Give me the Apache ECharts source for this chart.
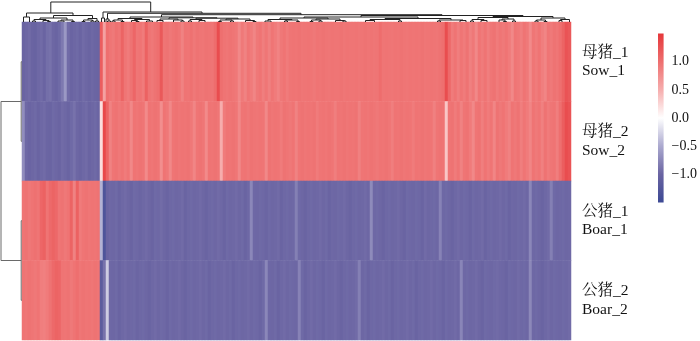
<!DOCTYPE html>
<html><head><meta charset="utf-8">
<script src="https://cdn.jsdelivr.net/npm/echarts@6/dist/echarts.min.js"></script>
<style>html,body{margin:0;padding:0;background:#fff}#c{width:700px;height:341px}</style>
</head><body><div id="c"></div>
<script>
// ---- data ----
const rowNamesCn = ['母猪_1', '母猪_2', '公猪_1', '公猪_2'];
const rowNamesEn = ['Sow_1', 'Sow_2', 'Boar_1', 'Boar_2'];

const sow1 = [
-1.0,-0.98,-0.95,-1.0,-1.02,-0.97,-0.95,-1.0,-0.92,-0.9,
-0.98,-1.0,-0.96,-0.85,-0.62,-0.95,-1.0,-0.98,-0.96,-1.0,
-0.95,-0.98,-1.0,-0.97,-0.99,-1.0,1.15,0.6,1.0,0.95,
0.92,0.98,0.95,1.1,0.95,0.9,0.97,1.08,0.94,0.96,
0.9,1.12,0.96,0.93,0.97,1.0,1.2,0.95,0.97,0.93,
0.96,0.98,0.95,0.85,0.96,0.95,0.98,0.93,0.97,0.95,
0.94,0.97,0.96,0.95,1.02,1.3,1.0,0.96,0.94,0.97,
0.95,0.93,0.8,0.92,0.85,0.95,0.9,0.82,0.93,0.96,
0.88,0.94,0.86,0.95,0.9,0.84,0.93,0.96,0.9,0.95,
0.96,0.95,0.97,0.94,0.95,0.96,0.95,0.93,0.96,0.95,
0.97,0.95,0.94,0.96,0.95,0.95,0.97,0.94,0.96,0.95,
0.95,0.96,0.94,0.95,0.97,0.95,0.96,0.94,0.95,1.02,
0.95,0.96,0.95,0.94,0.96,0.95,0.97,0.95,0.94,0.96,
0.95,0.96,0.95,0.97,0.94,0.95,0.96,0.95,0.94,0.97,
1.0,1.3,1.05,0.9,0.96,0.88,0.95,0.9,0.97,0.86,
0.93,0.8,0.95,0.9,0.96,0.88,0.94,0.97,0.9,0.95,
0.92,0.96,0.9,0.8,0.95,0.93,0.88,0.96,0.92,0.78,
0.94,0.9,0.96,0.88,0.82,0.95,0.92,0.97,0.94,1.0,
1.1,1.25,1.2];

const sow2 = [
-0.7,-0.97,-1.0,-0.98,-0.96,-1.0,-0.97,-0.95,-0.99,-1.0,
-0.96,-0.98,-1.0,-0.95,-0.97,-1.0,-0.96,-0.9,-0.98,-1.0,
-0.97,-0.95,-1.0,-0.98,-0.96,-0.99,0.2,1.35,1.1,0.85,
0.95,0.97,0.93,0.96,0.9,0.95,0.8,0.96,0.94,0.97,
0.95,0.78,0.96,0.94,0.97,0.95,0.75,0.96,0.93,0.8,
0.95,0.97,0.94,0.96,0.95,0.97,0.93,0.82,0.95,0.97,
0.94,0.78,0.96,0.95,0.97,0.94,0.5,0.9,0.96,0.95,
0.97,0.94,0.8,0.95,0.96,0.93,0.97,0.95,0.94,0.96,
0.95,0.8,0.97,0.94,0.96,0.95,0.9,0.97,0.95,0.93,
0.96,0.85,0.95,0.97,0.94,0.96,0.95,0.97,0.9,0.95,
0.96,0.94,0.97,0.95,0.88,0.96,0.95,0.97,0.94,0.96,
0.95,0.97,0.86,0.95,0.96,0.94,0.97,0.95,0.93,0.96,
0.95,0.97,0.94,0.88,0.96,0.95,0.97,0.94,0.96,0.95,
0.9,0.96,0.95,0.97,0.94,0.96,0.95,0.86,0.95,0.97,
0.96,0.35,0.95,0.97,0.9,0.96,0.85,0.95,0.97,0.9,
0.8,0.95,0.97,0.88,0.96,0.9,0.95,0.82,0.97,0.93,
0.96,0.9,0.85,0.96,0.93,0.97,0.88,0.95,0.9,0.82,
0.96,0.92,0.95,0.86,0.97,0.9,0.94,0.96,0.88,1.0,
1.15,1.3,1.25];

const boar1 = [
0.95,0.97,0.93,0.96,0.98,0.95,1.08,1.12,0.96,1.05,
1.1,1.06,0.95,0.97,0.93,0.96,1.1,0.85,1.12,0.9,
0.95,0.97,0.94,0.96,0.95,0.97,-0.45,-1.3,-1.0,-0.97,
-0.98,-0.96,-1.0,-0.97,-0.95,-0.98,-1.0,-0.96,-0.97,-0.99,
-0.97,-0.95,-0.98,-1.0,-0.96,-0.97,-0.94,-0.98,-1.0,-0.97,
-0.96,-0.98,-0.97,-0.95,-1.0,-0.97,-0.96,-0.98,-0.97,-0.95,
-0.98,-1.0,-0.97,-0.96,-0.98,-0.95,-0.97,-1.0,-0.96,-0.98,
-0.97,-0.95,-0.98,-0.96,-1.0,-0.97,-0.75,-0.97,-0.98,-0.96,
-0.97,-0.99,-0.96,-0.98,-0.97,-0.95,-1.0,-0.97,-0.96,-0.98,
-0.97,-0.8,-0.96,-0.98,-1.0,-0.97,-0.96,-0.98,-0.97,-0.95,
-0.98,-0.96,-1.0,-0.97,-0.98,-0.96,-0.97,-0.95,-0.98,-1.0,
-0.97,-0.96,-0.98,-0.97,-0.95,-0.98,-0.72,-0.97,-0.96,-0.98,
-1.0,-0.97,-0.96,-0.98,-0.97,-0.95,-0.98,-1.0,-0.96,-0.97,
-0.98,-0.96,-0.97,-1.0,-0.95,-0.98,-0.97,-0.96,-0.98,-0.78,
-0.97,-0.96,-0.98,-1.0,-0.97,-0.95,-0.98,-0.96,-0.97,-1.0,
-0.96,-0.98,-0.97,-0.95,-1.0,-0.97,-0.96,-0.98,-0.97,-0.95,
-0.98,-0.96,-1.0,-0.97,-0.98,-0.96,-0.97,-0.95,-0.98,-0.75,
-0.97,-0.96,-0.98,-1.0,-0.97,-0.95,-0.8,-0.96,-0.98,-0.97,
-0.96,-0.98,-0.97];

const boar2 = [
0.96,0.94,0.97,0.95,0.93,0.96,0.88,0.86,0.9,0.97,
1.05,1.1,1.08,0.96,0.95,0.97,0.92,0.96,1.0,0.94,
0.97,0.95,0.96,0.94,0.97,0.95,-1.15,-0.9,-0.3,-0.97,
-0.98,-0.96,-1.0,-0.97,-0.95,-0.98,-0.97,-0.96,-0.99,-0.97,
-0.96,-0.98,-1.0,-0.97,-0.95,-0.98,-0.96,-0.97,-1.0,-0.96,
-0.98,-0.97,-0.95,-0.98,-1.0,-0.97,-0.96,-0.98,-0.97,-0.95,
-0.98,-0.96,-1.0,-0.97,-0.96,-0.98,-0.97,-0.95,-0.98,-0.96,
-1.0,-0.97,-0.96,-0.98,-0.97,-0.95,-0.98,-0.96,-0.97,-1.0,
-0.96,-0.75,-0.97,-0.98,-0.96,-1.0,-0.97,-0.95,-0.98,-0.96,
-0.97,-0.98,-0.78,-0.96,-1.0,-0.97,-0.95,-0.98,-0.96,-0.97,
-1.0,-0.96,-0.98,-0.97,-0.95,-0.98,-1.0,-0.97,-0.96,-0.98,
-0.97,-0.95,-0.8,-0.98,-0.96,-1.0,-0.97,-0.96,-0.98,-0.97,
-0.95,-0.98,-0.96,-1.0,-0.97,-0.96,-0.98,-0.97,-0.95,-0.98,
-0.96,-1.0,-0.97,-0.96,-0.98,-0.97,-0.95,-0.98,-0.96,-0.97,
-1.0,-0.96,-0.98,-0.97,-0.95,-0.98,-0.76,-0.97,-0.96,-0.98,
-0.97,-0.95,-0.98,-1.0,-0.96,-0.97,-0.98,-0.96,-0.95,-0.97,
-0.98,-1.0,-0.96,-0.97,-0.98,-0.95,-0.97,-0.96,-0.98,-0.74,
-0.97,-0.96,-0.98,-1.0,-0.97,-0.95,-0.98,-0.96,-0.97,-0.98,
-0.96,-0.97,-0.95];

const rowsValues = [sow1, sow2, boar1, boar2];

// colour scale range and tick labels
const scaleMin = -1.5, scaleMax = 1.5, scaleStep = 0.5;

// dendrogram links: [xLeftChild, hLeftChild, xRightChild, hRightChild, hMerge]
// top (columns, x in column units, height in tree units)
const topLinks = [
[9.6,9,42.9,10,20],
[1.5,5,17,6.5,9],[0.5,0,2.5,0,5],
[10.5,4,23.5,3.5,6.5],[6,2.5,15,2,4],[4,1,8,1.5,2.5],[3.5,0,4.5,0,1],[7,0,9,0.5,1.5],[8.5,0,9.5,0,0.5],
[13,1,17,0.5,2],[12,0,14,0,1],[16.5,0,17.5,0,0.5],
[22,2,25,1,3.5],[20.5,0.5,23.5,1,2],[20,0,21,0,0.5],[23,0,24,0,1],[24.5,0,25.5,0,1],
[27,4,60,8.7,10],[26.5,0,27.5,0,4],
[28.5,3,93,7.3,8.7],[28,0,29,1,3],[28.5,0,29.5,0,1],
[46.5,5,140,6.5,7.3],
[36,3.5,57,4.2,5],[32,2,40,2.5,3.5],[30.5,1,33.5,0.5,2],[30,0,31,0,1],[33,0,34,0,0.5],
[37.5,1.5,42.5,1,2.5],[36.5,0,38.5,0.5,1.5],[38,0,39,0,0.5],[41.5,0,43.5,0,1],
[49,3,65,3.8,4.2],[46,1.5,52,2,3],[45,0,47,0,1.5],[50.5,0,53.5,1,2],[53,0,54,0,1],
[58,2.5,72,3,3.8],[56,1,60,1.5,2.5],[55.5,0,56.5,0,1],[59,0,61,0,1.5],
[68,2,76,1.5,3],[66,0.5,70,1,2],[65.5,0,66.5,0,0.5],[69.5,0,70.5,0,1],[74.5,0,77.5,0.5,1.5],[77,0,78,0,0.5],
[113,5,167,5.5,6.5],[94,4,132,3.5,5],
[86,2.5,102,3,4],[82,1,90,2,2.5],[81,0,83,0,1],[88,1,92,0.5,2],[87.5,0,88.5,0,1],[91.5,0,92.5,0,0.5],
[98,2,106,1.5,3],[96.5,0.5,99.5,1,2],[96,0,97,0,0.5],[99,0,100,0,1],[104.5,0,107.5,1,1.5],[107,0,108,0,1],
[121,2.5,143,2,3.5],[116,1.5,126,1,2.5],[114.5,0,117.5,0,1.5],[125.5,0,126.5,0,1],
[139,1,147,1.5,2],[138.5,0,139.5,0,1],[146,0,148,0,1.5],
[157,4.5,177,4,5.5],[152,2.5,162,3,4.5],[150,1,154,1.5,2.5],[149.5,0,150.5,0,1],[153,0,155,0,1.5],
[160,2,164,1,3],[159,0,161,0.5,2],[160.5,0,161.5,0,0.5],[163.5,0,164.5,0,1],
[173,2,181,2.5,4],[171.5,1,174.5,0.5,2],[171,0,172,0,1],[174,0,175,0,0.5],[179.5,1.5,182.5,0,2.5],[179,0,180,0,1.5]
];
// left (rows): [yRowA, hA, yRowB, hB, hMerge]
const leftLinks = [
[0.5,0,1.5,0,0.8],
[2.5,0,3.5,0,0.8],
[1,0.8,3,0.8,21]
];

// ---- chart ----
const palette = ['#3c4994','#6a64a2','#aba9cf','#ffffff','#f6adad','#ee6f6f','#e5373a'];
const nCols = sow1.length;
const colCats = Array.from({length: nCols}, (_, i) => String(i));
const heatData = [];
rowsValues.forEach((row, r) => row.forEach((v, c) => heatData.push([c, r, v])));

const serifFont = "'Liberation Serif', 'Noto Serif CJK SC', 'Noto Sans CJK SC', serif";

function linkRenderer(horizontal) {
  return function (params, api) {
    const xa = api.value(0), ha = api.value(1), xb = api.value(2), hb = api.value(3), h = api.value(4);
    const P = horizontal ? (p, q) => api.coord([p, q]) : (p, q) => api.coord([q, p]);
    const pts = [P(xa, ha), P(xa, h), P(xb, h), P(xb, hb)];
    return { type: 'polyline', shape: { points: pts }, style: { stroke: horizontal ? '#222' : '#6a6a6a', lineWidth: 1, fill: null } };
  };
}

const chart = echarts.init(document.getElementById('c'), null, { renderer: 'canvas' });
chart.setOption({
  animation: false,
  grid: [
    { left: 22, top: 22, width: 549, height: 318 },
    { left: 22, top: 2, width: 549, height: 20 },
    { left: 1, top: 22, width: 21, height: 318 },
    { left: 658, top: 33.5, width: 7, height: 169 }
  ],
  xAxis: [
    { gridIndex: 0, type: 'category', data: colCats, show: false },
    { gridIndex: 1, type: 'value', min: 0, max: nCols, show: false },
    { gridIndex: 2, type: 'value', min: 0, max: 21, inverse: true, show: false },
    { gridIndex: 3, type: 'value', min: 0, max: 1, show: false }
  ],
  yAxis: [
    { gridIndex: 0, type: 'category', data: rowNamesCn, inverse: true, position: 'right',
      axisLine: { show: false }, axisTick: { show: false }, splitLine: { show: false },
      axisLabel: { show: true, margin: 11, align: 'left', fontSize: 15.5, lineHeight: 18.5,
        color: '#111', fontFamily: serifFont, padding: [6, 0, 0, 0],
        formatter: (v, i) => rowNamesCn[i] + '\n' + rowNamesEn[i] } },
    { gridIndex: 1, type: 'value', min: 0, max: 20, show: false },
    { gridIndex: 2, type: 'value', min: 0, max: 4, inverse: true, show: false },
    { gridIndex: 3, type: 'value', min: scaleMin, max: scaleMax, interval: scaleStep, position: 'right',
      axisLine: { show: false }, axisTick: { show: false }, splitLine: { show: false },
      axisLabel: { margin: 8, fontSize: 14, color: '#111', fontFamily: serifFont,
        formatter: v => (Math.abs(v) >= 1.49 ? '' : v.toFixed(1).replace('-', '\u2212')) } }
  ],
  visualMap: { type: 'continuous', show: false, min: scaleMin, max: scaleMax, seriesIndex: 0,
    inRange: { color: palette } },
  series: [
    { type: 'heatmap', xAxisIndex: 0, yAxisIndex: 0, data: heatData, progressive: 0,
      itemStyle: { borderWidth: 0 }, emphasis: { disabled: true } },
    { type: 'custom', xAxisIndex: 1, yAxisIndex: 1, data: topLinks, renderItem: linkRenderer(true), silent: true },
    { type: 'custom', xAxisIndex: 2, yAxisIndex: 2, data: leftLinks, renderItem: linkRenderer(false), silent: true },
    { type: 'custom', xAxisIndex: 3, yAxisIndex: 3, data: [[0, scaleMin, scaleMax]], silent: true,
      renderItem: (params, api) => {
        const p1 = api.coord([0, api.value(2)]);
        const p2 = api.coord([1, api.value(1)]);
        const stops = palette.slice().reverse().map((c, i, a) => ({ offset: i / (a.length - 1), color: c }));
        return { type: 'rect', shape: { x: p1[0], y: p1[1], width: p2[0] - p1[0], height: p2[1] - p1[1] },
          style: { fill: new echarts.graphic.LinearGradient(0, 0, 0, 1, stops) } };
      } }
  ]
});
</script></body></html>
